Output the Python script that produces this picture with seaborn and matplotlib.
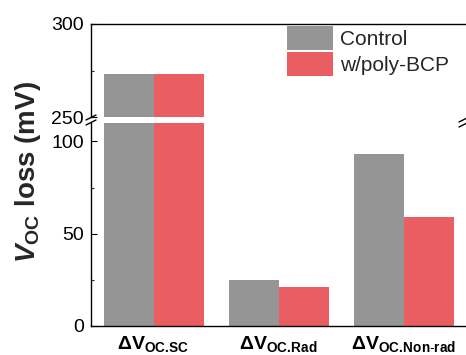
import matplotlib
matplotlib.use("Agg")
import matplotlib.pyplot as plt
from matplotlib.lines import Line2D
import seaborn as sns
import pandas as pd

# V_OC loss components (mV)
categories = [r"$\mathbf{\Delta V_{OC.\!SC}}$",
              r"$\mathbf{\Delta V_{OC.\!Rad}}$",
              r"$\mathbf{\Delta V_{OC.\!Non\text{-}rad}}$"]
category_keys = ["SC", "Rad", "Non-rad"]
groups = ["Control", "w/poly-BCP"]
control_values = [273, 25, 93]
bcp_values = [273, 21, 59]
colors = ["#959595", "#EA5E63"]

sns.set_theme(style="ticks")
plt.rcParams["font.family"] = ["Liberation Sans", "DejaVu Sans"]
plt.rcParams["mathtext.fontset"] = "custom"
plt.rcParams["mathtext.rm"] = "Liberation Sans"
plt.rcParams["mathtext.bf"] = "Liberation Sans:bold"
plt.rcParams["mathtext.it"] = "Liberation Sans:italic"
plt.rcParams["mathtext.bfit"] = "Liberation Sans:bold:italic"

df = pd.DataFrame({
    "cat": category_keys * 2,
    "group": [groups[0]] * 3 + [groups[1]] * 3,
    "value": control_values + bcp_values,
})

W, H = 466, 355
fig = plt.figure(figsize=(W / 100, H / 100), dpi=100)
left = 91 / W
width = 379 / W
ax_top = fig.add_axes([left, 1 - 117 / H, width, (117 - 24) / H])
ax_bot = fig.add_axes([left, 1 - 326 / H, width, (326 - 123) / H])

for ax in (ax_top, ax_bot):
    sns.barplot(data=df, x="cat", y="value", hue="group", palette=colors,
                order=category_keys, hue_order=groups, errorbar=None,
                saturation=1, width=0.8, linewidth=0, ax=ax)
    ax.set_xlim(-0.5, -0.5 + 379 / 125)
    ax.set_xlabel("")
    ax.set_ylabel("")
    for s in ax.spines.values():
        s.set_linewidth(1.0)
        s.set_color("black")
    ax.tick_params(axis="both", which="major", direction="in", length=4,
                   width=0.8, labelsize=14, colors="black")
    ax.tick_params(axis="y", which="minor", direction="in", length=2.2,
                   width=0.8)

ax_top.set_ylim(250, 300)
ax_top.set_yticks([250, 300])
ax_top.set_yticks([275], minor=True)
ax_top.spines["bottom"].set_visible(False)
ax_top.tick_params(axis="x", bottom=False, labelbottom=False)

ax_bot.set_ylim(0, 110)
ax_bot.set_yticks([0, 50, 100])
ax_bot.set_yticks([25, 75], minor=True)
ax_bot.spines["top"].set_visible(False)
ax_bot.set_xticks([0, 1, 2])
ax_bot.set_xticklabels(categories, fontsize=14)
ax_bot.tick_params(axis="x", pad=6)
ax_bot.tick_params(axis="y", pad=5)
ax_top.tick_params(axis="y", pad=5)
ax_bot.legend_.remove()

handles, labels = ax_top.get_legend_handles_labels()
ax_top.legend_.remove()
fig.legend(handles, labels, loc="upper left",
           bbox_to_anchor=(287 / W, 1 - 26 / H), frameon=False,
           fontsize=15, handlelength=2.2, handleheight=1.4,
           handletextpad=0.35, labelspacing=0.1,
           borderpad=0, borderaxespad=0)

fig.text(28 / W, 1 - 172 / H, r"$\mathbfit{V}_{\mathbf{OC}}$ loss (mV)",
         rotation=90, ha="center", va="center", fontsize=20,
         fontweight="bold")

# axis break marks
def slash(xc, yc):
    xs = [(xc - 5) / W, (xc + 5) / W]
    ys = [1 - (yc + 2.5) / H, 1 - (yc - 2.5) / H]
    fig.add_artist(Line2D(xs, ys, transform=fig.transFigure,
                          color="black", linewidth=1.0))

for yc in (117.5, 122.5):
    slash(91, yc)
    slash(464, yc + 2)

fig.savefig("out.png", dpi=100)
